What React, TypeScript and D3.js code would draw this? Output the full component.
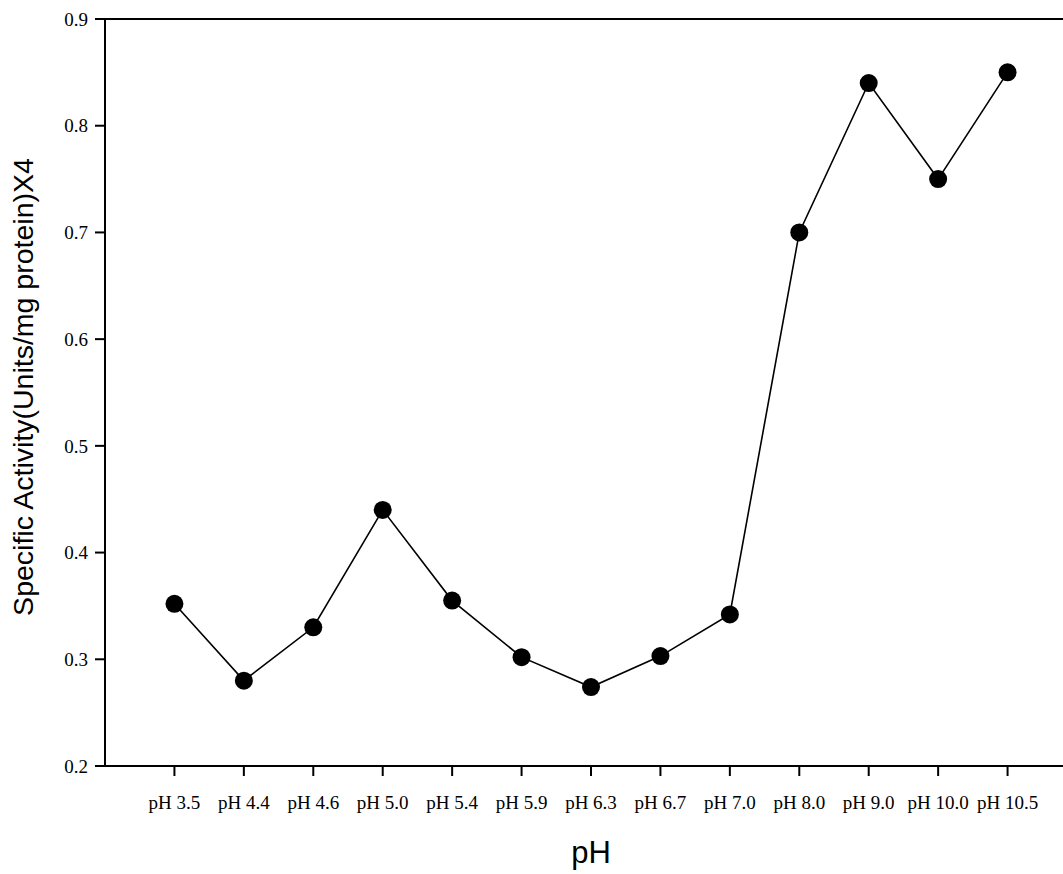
import React from "react";
import * as d3 from "d3";

const categories = ["pH 3.5", "pH 4.4", "pH 4.6", "pH 5.0", "pH 5.4", "pH 5.9", "pH 6.3", "pH 6.7", "pH 7.0", "pH 8.0", "pH 9.0", "pH 10.0", "pH 10.5"];
const activity = [0.352, 0.28, 0.33, 0.44, 0.355, 0.302, 0.274, 0.303, 0.342, 0.70, 0.84, 0.75, 0.85];
const yTicks = [0.2, 0.3, 0.4, 0.5, 0.6, 0.7, 0.8, 0.9];
const xTitle = "pH";
const yTitle = "Specific Activity(Units/mg protein)X4";

const W = 1063;
const H = 874;
const left = 105;
const right = 1077;
const top = 19;
const bottom = 766;

export default function App() {
  const x = d3.scalePoint<string>().domain(categories).range([left, right]).padding(1);
  const y = d3.scaleLinear().domain([0.2, 0.9]).range([bottom, top]);
  const line = d3
    .line<number>()
    .x((_, i) => x(categories[i]) as number)
    .y((d) => y(d));

  return (
    <svg
      width={W}
      height={H}
      style={{ position: "absolute", left: 0, top: 0, background: "#fff" }}
    >
      <rect x={0} y={0} width={W} height={H} fill="#fff" />
      {/* frame */}
      <line x1={left} y1={top} x2={left} y2={bottom} stroke="#000" strokeWidth={2} />
      <line x1={left - 10} y1={bottom} x2={right} y2={bottom} stroke="#000" strokeWidth={2} />
      <line x1={left - 10} y1={top} x2={right} y2={top} stroke="#000" strokeWidth={2} />
      <line x1={right} y1={top} x2={right} y2={bottom} stroke="#000" strokeWidth={2} />
      {/* y ticks */}
      {yTicks.map((t) => (
        <g key={t}>
          <line x1={left - 10} x2={left} y1={y(t)} y2={y(t)} stroke="#000" strokeWidth={2} />
          <text
            x={88}
            y={y(t)}
            dy="0.35em"
            textAnchor="end"
            fontFamily="'Liberation Serif', 'Times New Roman', serif"
            fontSize={19}
            fill="#000"
          >
            {t.toFixed(1)}
          </text>
        </g>
      ))}
      {/* x ticks */}
      {categories.map((c) => (
        <g key={c}>
          <line x1={x(c)} x2={x(c)} y1={bottom} y2={bottom + 10} stroke="#000" strokeWidth={2} />
          <text
            x={x(c)}
            y={809}
            textAnchor="middle"
            fontFamily="'Liberation Serif', 'Times New Roman', serif"
            fontSize={19}
            fill="#000"
          >
            {c}
          </text>
        </g>
      ))}
      {/* data */}
      <path d={line(activity) || ""} fill="none" stroke="#000" strokeWidth={1.6} />
      {activity.map((v, i) => (
        <circle key={i} cx={x(categories[i])} cy={y(v)} r={9} fill="#000" />
      ))}
      {/* titles */}
      <text
        x={591}
        y={863}
        textAnchor="middle"
        fontFamily="'Liberation Sans', Arial, sans-serif"
        fontSize={31}
        fill="#000"
      >
        {xTitle}
      </text>
      <text
        transform={`translate(33, 387) rotate(-90)`}
        textAnchor="middle"
        fontFamily="'Liberation Sans', Arial, sans-serif"
        fontSize={28.5}
        fill="#000"
      >
        {yTitle}
      </text>
    </svg>
  );
}
